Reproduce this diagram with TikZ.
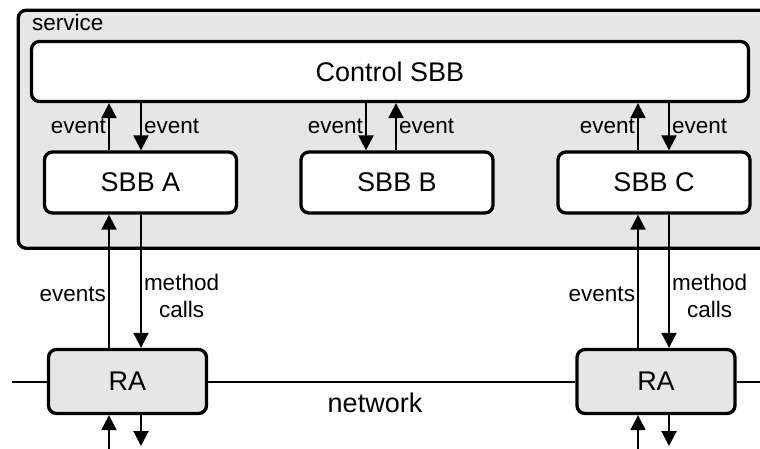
\documentclass[tikz,border=0pt]{standalone}
\usepackage{fontspec}
\setmainfont{Liberation Sans}
\usetikzlibrary{arrows.meta,positioning}
\definecolor{svcgray}{RGB}{230,230,230}

\begin{document}
\begin{tikzpicture}[x=1pt,y=-1pt,
  box/.style={draw, line width=3.3pt, rounded corners=8pt, fill=white, font=\fontsize{27}{32}\selectfont},
  lbl/.style={inner sep=2pt, font=\fontsize{22.5}{27}\selectfont},
  arr/.style={line width=2pt, -{Triangle[width=15pt,length=15pt]}}]
\useasboundingbox (0,0) rectangle (760,448);
% Service container
\node[box, fill=svcgray, anchor=north west, minimum width=790pt, minimum height=238pt] (service) at (16.6,8.6) {};
\node[lbl, anchor=west] (svclbl) at (30,22) {service};
% SBBs
\node[box, minimum width=717pt, minimum height=60pt] (ctrl) at (390,71.5) {Control SBB};
\node[box, minimum width=192pt, minimum height=61pt] (sbbA) at (140.5,182.5) {SBB A};
\node[box, minimum width=192pt, minimum height=61pt] (sbbB) at (397,182.5) {SBB B};
\node[box, minimum width=192pt, minimum height=61pt] (sbbC) at (654,182.5) {SBB C};
% Resource adaptors
\node[box, fill=svcgray, minimum width=158pt, minimum height=64pt] (raL) at (127.5,381.5) {RA};
\node[box, fill=svcgray, minimum width=158pt, minimum height=64pt] (raR) at (656,381.5) {RA};
% Events between SBBs
\draw[arr] (109,0 |- sbbA.north) -- (109,0 |- ctrl.south) node[lbl, midway, left] {event};
\draw[arr] (141,0 |- ctrl.south) -- (141,0 |- sbbA.north) node[lbl, midway, right] {event};
\draw[arr] (366,0 |- ctrl.south) -- (366,0 |- sbbB.north) node[lbl, midway, left] {event};
\draw[arr] (396,0 |- sbbB.north) -- (396,0 |- ctrl.south) node[lbl, midway, right] {event};
\draw[arr] (638,0 |- sbbC.north) -- (638,0 |- ctrl.south) node[lbl, midway, left] {event};
\draw[arr] (669,0 |- ctrl.south) -- (669,0 |- sbbC.north) node[lbl, midway, right] {event};
% SBB <-> RA
\draw[arr] (109,0 |- raL.north) -- (109,0 |- sbbA.south) node[lbl, pos=0.4, left] {events};
\draw[arr] (141,0 |- sbbA.south) -- (141,0 |- raL.north) node[lbl, pos=0.61, right, align=center] {method\\calls};
\draw[arr] (638,0 |- raR.north) -- (638,0 |- sbbC.south) node[lbl, pos=0.4, left] {events};
\draw[arr] (669,0 |- sbbC.south) -- (669,0 |- raR.north) node[lbl, pos=0.61, right, align=center] {method\\calls};
% Network
\coordinate (netL) at (12,381.5);
\coordinate (netR) at (775,381.5);
\draw[line width=2pt] (netL) -- (raL) (raL) -- (raR) (raR) -- (netR);
\node[font=\fontsize{27}{32}\selectfont] (netlbl) at (375,403) {network};
% Below the RAs
\coordinate (inL) at (109,452);
\coordinate (outL) at (141,446);
\coordinate (inR) at (638,452);
\coordinate (outR) at (669,446);
\draw[arr] (inL) -- (inL |- raL.south);
\draw[arr] (outL |- raL.south) -- (outL);
\draw[arr] (inR) -- (inR |- raR.south);
\draw[arr] (outR |- raR.south) -- (outR);
\end{tikzpicture}
\end{document}
